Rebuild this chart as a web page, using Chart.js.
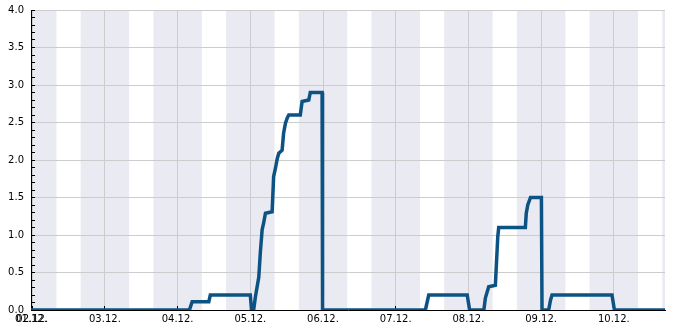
<!DOCTYPE html>
<html>
<head>
<meta charset="utf-8">
<script src="https://cdn.jsdelivr.net/npm/chart.js@4"></script>
<style>
  body { margin: 0; background: #fff; }
</style>
</head>
<body>
<canvas id="myChart" width="685" height="330"></canvas>
<script>
/* time in hours counted from 02.12. 00:00 */
const dayLabels = ["01.12.", "02.12.", "03.12.", "04.12.", "05.12.", "06.12.", "07.12.", "08.12.", "09.12.", "10.12."];
const dayTicks = [0, 24, 48, 72, 96, 120, 144, 168, 192];
const yMajor = [0, 0.5, 1.0, 1.5, 2.0, 2.5, 3.0, 3.5, 4.0];

const hours = [
  -0.4, 51.9, 52.8, 58.3, 58.8, 72.0, 72.4, 73.1, 73.7, 74.8,
  75.3, 75.9, 76.4, 77.0, 79.2, 79.7, 80.3, 80.9, 81.4, 82.5,
  83.0, 83.6, 84.2, 84.7, 88.5, 89.1, 91.3, 91.8, 95.7, 95.85,
  129.8, 130.9, 143.6, 144.4, 149.1, 149.6, 150.7, 152.9, 153.7, 154.0,
  162.8, 163.1, 163.6, 164.5, 168.1, 168.3, 170.5, 171.1, 171.6, 191.4,
  192.2, 208.9
];
const values = [
  0, 0, 0.11, 0.11, 0.2, 0.2, 0, 0, 0.18, 0.44,
  0.76, 1.07, 1.16, 1.29, 1.31, 1.78, 1.89, 2.02, 2.09, 2.13,
  2.36, 2.49, 2.56, 2.6, 2.6, 2.78, 2.8, 2.9, 2.9, 0,
  0, 0.2, 0.2, 0, 0, 0.16, 0.31, 0.33, 0.98, 1.1,
  1.1, 1.29, 1.4, 1.5, 1.5, 0, 0, 0.13, 0.2, 0.2,
  0, 0
];

const xMin = -0.4;
const xMax = 208.9;
// night shading 16:00 -> 08:00
const nightBefore = 8;
const nightAfter = 8;

const points = hours.map((h, i) => ({ x: h, y: values[i] }));

const nightBands = {
  id: 'nightBands',
  beforeDraw(chart) {
    const { ctx, chartArea, scales } = chart;
    const x = scales.x;
    ctx.save();
    ctx.fillStyle = '#eaeaf2';
    for (let d = 0; d <= 9; d++) {
      const s = Math.max(d * 24 - nightBefore, xMin);
      const e = Math.min(d * 24 + nightAfter, xMax);
      if (e <= s) continue;
      const px1 = x.getPixelForValue(s);
      const px2 = x.getPixelForValue(e);
      ctx.fillRect(px1, chartArea.top, px2 - px1, chartArea.bottom - chartArea.top);
    }
    ctx.restore();
  }
};

const isMajor = (v) => Math.round(v * 10) % 5 === 0;

const ctx1 = document.getElementById("myChart").getContext("2d");

const config1 = {
  type: "line",
  data: {
    datasets: [{
      data: points,
      borderColor: "#0c5384",
      borderWidth: 3.5,
      tension: 0,
      pointRadius: 0,
      fill: false,
      clip: { left: 2, top: 2, right: 2, bottom: 0 }
    }]
  },
  options: {
    responsive: false,
    animation: false,
    layout: { padding: { top: 10, right: 20, left: 0, bottom: 0 } },
    plugins: { legend: { display: false }, tooltip: { enabled: false } },
    scales: {
      x: {
        type: "linear",
        min: xMin,
        max: xMax,
        afterBuildTicks: (scale) => {
          scale.ticks = [{ value: xMin }].concat(dayTicks.map((v) => ({ value: v })));
        },
        afterFit: (scale) => {
          scale.height = 20;
          scale.paddingLeft = 0;
          scale.paddingRight = 0;
        },
        ticks: {
          autoSkip: false,
          maxRotation: 0,
          padding: 7,
          color: "#000",
          font: { family: "DejaVu Sans", size: 10 },
          callback: (v) => dayLabels[Math.floor(v / 24) + 1]
        },
        grid: {
          color: (c) => c.tick && c.tick.value === xMin ? "rgba(0,0,0,0)" : "#cccccc",
          tickColor: "#000",
          tickLength: -4
        },
        border: { color: "#000", width: 1 }
      },
      y: {
        min: 0,
        max: 4,
        afterBuildTicks: (scale) => {
          const t = [];
          for (let i = 0; i <= 40; i++) t.push({ value: i / 10 });
          scale.ticks = t;
        },
        afterFit: (scale) => {
          scale.width = 31;
          scale.paddingTop = 0;
          scale.paddingBottom = 0;
        },
        ticks: {
          autoSkip: false,
          padding: 11,
          color: "#000",
          font: { family: "DejaVu Sans", size: 10 },
          callback: (v) => yMajor.includes(Math.round(v * 10) / 10) ? v.toFixed(1) : ""
        },
        grid: {
          color: (c) => c.tick && isMajor(c.tick.value) && c.tick.value > 0 ? "#cccccc" : "rgba(0,0,0,0)",
          tickColor: "#000",
          tickLength: -4
        },
        border: { color: "#000", width: 1 }
      }
    }
  },
  plugins: [nightBands]
};

const myChart1 = new Chart(ctx1, config1);
</script>
</body>
</html>
